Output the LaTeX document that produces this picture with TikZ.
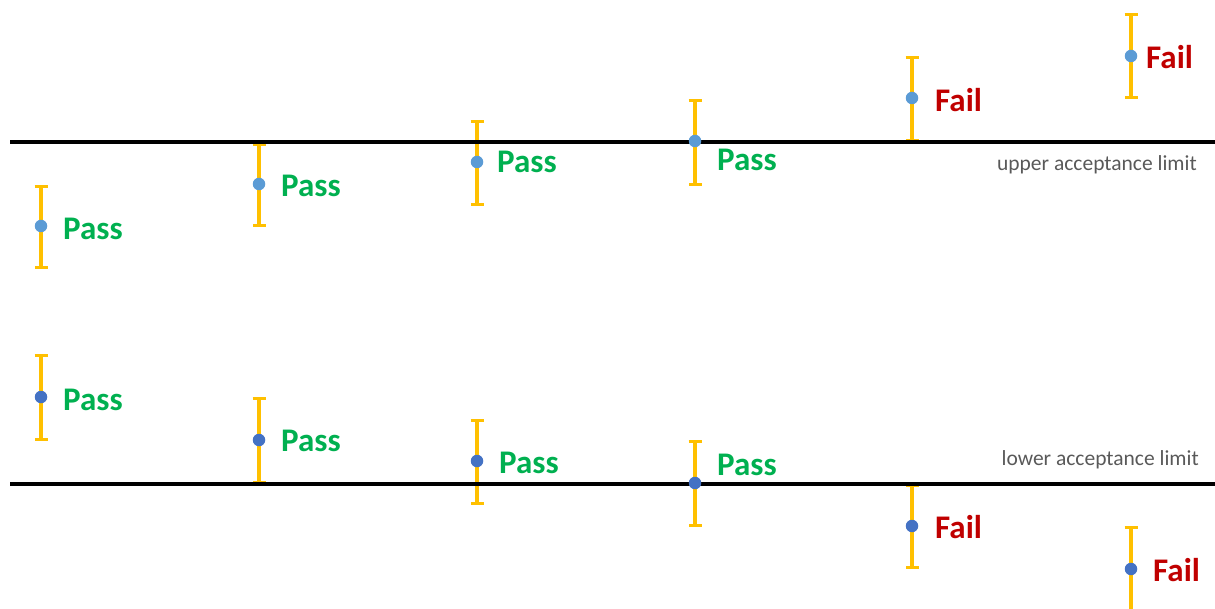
\documentclass[tikz,border=0pt]{standalone}
\usepackage{fontspec}
\setmainfont{Carlito}
\usetikzlibrary{arrows.meta}
\definecolor{barc}{HTML}{FFC000}
\definecolor{passc}{HTML}{00B050}
\definecolor{failc}{HTML}{C00000}
\definecolor{dotup}{HTML}{5B9BD5}
\definecolor{dotlo}{HTML}{4472C4}
\definecolor{limtxt}{HTML}{595959}
\tikzset{
  errbar/.style={draw=barc, line width=3.8pt, {Bar[width=13pt,line width=3.2pt]}-{Bar[width=13pt,line width=3.2pt]}},
  limitline/.style={draw=black, line width=3.8pt},
  dotup/.style={circle, fill=dotup, inner sep=0pt, minimum size=12.5pt},
  dotlo/.style={circle, fill=dotlo, inner sep=0pt, minimum size=12.5pt},
  verdict/.style={anchor=west, inner sep=0pt, font=\fontsize{33}{33}\selectfont\bfseries},
  passlbl/.style={verdict, text=passc},
  faillbl/.style={verdict, text=failc},
  limlbl/.style={anchor=east, inner sep=0pt, text=limtxt, font=\fontsize{21.5}{21.5}\selectfont},
}
\begin{document}
\begin{tikzpicture}[x=1pt,y=-1pt]
\useasboundingbox (0,0) rectangle (1215,609);
% error bars: name / x / top / bottom
\foreach \n/\x/\t/\b in {u1/41/185/269, u2/259/143/227, u3/477/120/206, u4/695/99/186, u5/912/56/142, u6/1131/13/99,
                          l1/41/354/441, l2/259/397/484, l3/477/419/505, l4/695/440/527, l5/912/484/569, l6/1131/526/625}{
  \coordinate (\n t) at (\x,\t);
  \coordinate (\n b) at (\x,\b);
  \draw[errbar] (\n t) -- (\n b);
}
% acceptance limits
\coordinate (ul0) at (10,142);
\coordinate (ul1) at (1215,142);
\coordinate (ll0) at (10,484);
\coordinate (ll1) at (1215,484);
\draw[limitline] (ul0) -- (ul1);
\draw[limitline] (ll0) -- (ll1);
\node[limlbl] (ultxt) at (1197,165) {upper acceptance limit};
\node[limlbl] (lltxt) at (1199,460) {lower acceptance limit};
% measured values
\node[dotup] (du1) at (41,226) {};
\node[dotup] (du2) at (259,184) {};
\node[dotup] (du3) at (477,162) {};
\node[dotup] (du4) at (695,141) {};
\node[dotup] (du5) at (912,98) {};
\node[dotup] (du6) at (1131,56) {};
\node[dotlo] (dl1) at (41,397) {};
\node[dotlo] (dl2) at (259,440) {};
\node[dotlo] (dl3) at (477,461) {};
\node[dotlo] (dl4) at (695,483) {};
\node[dotlo] (dl5) at (912,526) {};
\node[dotlo] (dl6) at (1131,569) {};
% verdicts
\node[passlbl] (pu1) at (63,229) {Pass};
\node[passlbl] (pu2) at (281,186) {Pass};
\node[passlbl] (pu3) at (497,162) {Pass};
\node[passlbl] (pu4) at (717,160) {Pass};
\node[faillbl] (fu5) at (935,100) {Fail};
\node[faillbl] (fu6) at (1146,57) {Fail};
\node[passlbl] (pl1) at (63,400) {Pass};
\node[passlbl] (pl2) at (281,441) {Pass};
\node[passlbl] (pl3) at (499,463) {Pass};
\node[passlbl] (pl4) at (717,465) {Pass};
\node[faillbl] (fl5) at (935,527) {Fail};
\node[faillbl] (fl6) at (1153,570) {Fail};
\end{tikzpicture}
\end{document}
